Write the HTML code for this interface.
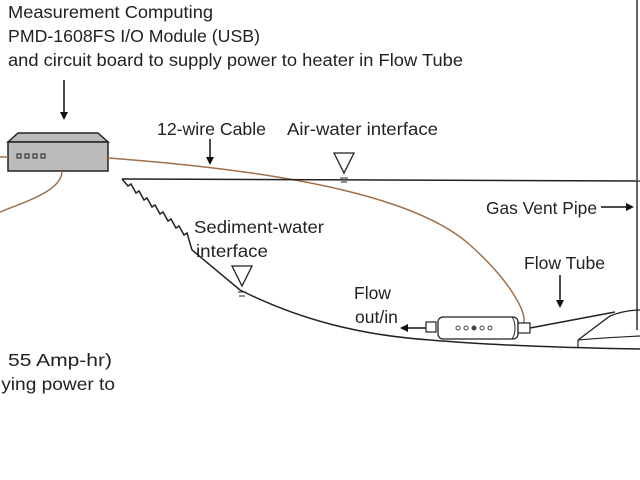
<!DOCTYPE html>
<html><head><style>
body{margin:0;background:#fff;width:640px;height:480px;overflow:hidden}
svg{position:absolute;left:0;top:0}
text{font-family:"Liberation Sans",sans-serif;font-size:17.5px;fill:#222}
</style></head><body>
<svg width="640" height="480" viewBox="0 0 640 480">
<defs><marker id="a" markerWidth="8" markerHeight="8" refX="6" refY="4" orient="auto" markerUnits="userSpaceOnUse"><path d="M0,0 L8,4 L0,8 z" fill="#111"/></marker></defs>
<text x="8" y="18" textLength="205" lengthAdjust="spacingAndGlyphs">Measurement Computing</text>
<text x="8" y="42" textLength="252" lengthAdjust="spacingAndGlyphs">PMD-1608FS I/O Module (USB)</text>
<text x="8" y="66" textLength="455" lengthAdjust="spacingAndGlyphs">and circuit board to supply power to heater in Flow Tube</text>
<line x1="64" y1="80" x2="64" y2="118" stroke="#111" stroke-width="1.5" marker-end="url(#a)"/>
<path d="M8,142 L18,133 L98,133 L108,142 Z" fill="#bbb" stroke="#222" stroke-width="1.5"/>
<rect x="8" y="142" width="100" height="29" fill="#bbb" stroke="#222" stroke-width="1.5"/>
<g fill="none" stroke="#222" stroke-width="1"><rect x="17" y="154" width="4" height="4"/><rect x="25" y="154" width="4" height="4"/><rect x="33" y="154" width="4" height="4"/><rect x="41" y="154" width="4" height="4"/></g>
<path d="M0,157 L8,157" stroke="#a0704a" stroke-width="1.5"/>
<path d="M62,171 C62,190 30,200 0,212" stroke="#a0704a" stroke-width="1.5" fill="none"/>
<path d="M108,158 C300,172 420,200 470,245 C515,285 530,320 522,324" stroke="#a0704a" stroke-width="1.5" fill="none"/>
<text x="157" y="135" textLength="109" lengthAdjust="spacingAndGlyphs">12-wire Cable</text>
<line x1="210" y1="139" x2="210" y2="163" stroke="#111" stroke-width="1.5" marker-end="url(#a)"/>
<text x="287" y="135" textLength="151" lengthAdjust="spacingAndGlyphs">Air-water interface</text>
<path d="M334,153 L354,153 L344,173 Z" fill="#fff" stroke="#222" stroke-width="1.3"/>
<line x1="340" y1="178" x2="348" y2="178" stroke="#222"/><line x1="341" y1="182" x2="347" y2="182" stroke="#222"/>
<line x1="122" y1="179" x2="640" y2="181" stroke="#222" stroke-width="1.5"/>
<path d="M122,179 L128,186 L131,184 L136,193 L139,191 L144,200 L147,198 L152,207 L155,205 L160,214 L163,212 L168,221 L171,219 L176,228 L179,226 L184,235 L187,233 L192,250 L240,290 C300,320 360,335 430,340 C500,346 580,348 640,349" stroke="#222" stroke-width="1.5" fill="none"/>
<text x="194" y="233" textLength="130" lengthAdjust="spacingAndGlyphs">Sediment-water</text>
<text x="196" y="257" textLength="72" lengthAdjust="spacingAndGlyphs">interface</text>
<path d="M232,266 L252,266 L242,286 Z" fill="#fff" stroke="#222" stroke-width="1.3"/>
<line x1="238" y1="292" x2="246" y2="292" stroke="#222"/><line x1="239" y1="296" x2="245" y2="296" stroke="#222"/>
<text x="486" y="214" textLength="111" lengthAdjust="spacingAndGlyphs">Gas Vent Pipe</text>
<line x1="601" y1="207" x2="632" y2="207" stroke="#111" stroke-width="1.5" marker-end="url(#a)"/>
<line x1="637" y1="0" x2="637" y2="330" stroke="#333" stroke-width="1.5"/>
<text x="524" y="269" textLength="81" lengthAdjust="spacingAndGlyphs">Flow Tube</text>
<line x1="560" y1="275" x2="560" y2="306" stroke="#111" stroke-width="1.5" marker-end="url(#a)"/>
<text x="354" y="299">Flow</text>
<text x="355" y="323">out/in</text>
<line x1="426" y1="328" x2="402" y2="328" stroke="#111" stroke-width="1.5" marker-end="url(#a)"/>
<rect x="426" y="322" width="10" height="10" fill="#fff" stroke="#222" stroke-width="1.2"/>
<rect x="438" y="317" width="80" height="22" rx="5" fill="#fff" stroke="#222" stroke-width="1.3"/>
<path d="M512,317 C516,322 516,334 512,339" fill="none" stroke="#222"/>
<g fill="#fff" stroke="#444"><circle cx="458" cy="328" r="2"/><circle cx="466" cy="328" r="2"/><circle cx="474" cy="328" r="2" fill="#444"/><circle cx="482" cy="328" r="2"/><circle cx="490" cy="328" r="2"/></g>
<rect x="518" y="323" width="12" height="10" fill="#fff" stroke="#222" stroke-width="1.2"/>
<line x1="530" y1="328" x2="615" y2="312" stroke="#222" stroke-width="1.5"/>
<path d="M578,340 L610,316 C620,312 630,310 640,310" fill="none" stroke="#222" stroke-width="1.3"/>
<path d="M578,340 L578,348 M578,340 C600,338 620,337 640,336" fill="none" stroke="#222" stroke-width="1.2"/>
<text x="8" y="366" textLength="104" lengthAdjust="spacingAndGlyphs">55 Amp-hr)</text>
<text x="-3" y="390" textLength="118" lengthAdjust="spacingAndGlyphs">lying power to</text>
</svg>
</body></html>
